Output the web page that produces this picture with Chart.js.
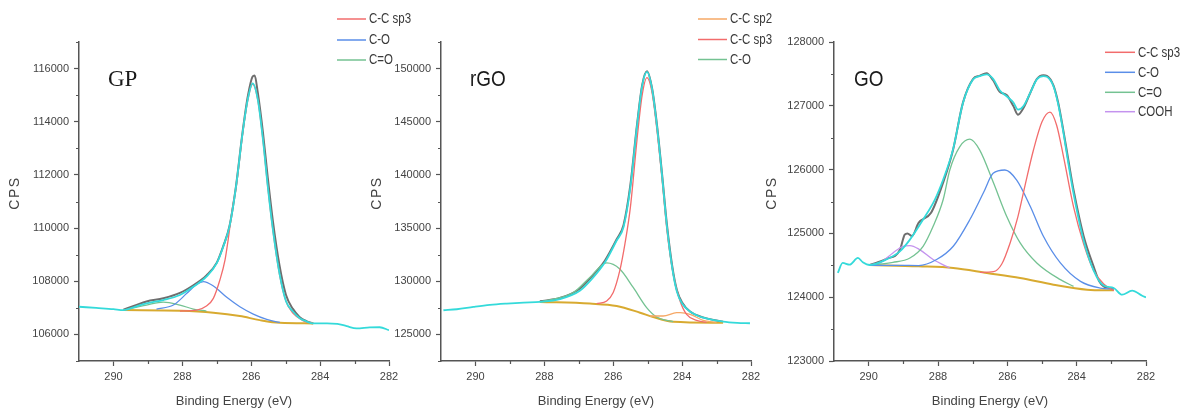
<!DOCTYPE html>
<html><head><meta charset="utf-8">
<script src="https://cdn.jsdelivr.net/npm/chart.js@4.4.1/dist/chart.umd.min.js"></script>
<style>
html,body{margin:0;padding:0;background:#fff;}
body{width:1189px;height:410px;position:relative;overflow:hidden;}
canvas{position:absolute;top:0;}
</style></head><body>
<canvas id="c1" width="430" height="410" style="left:0px"></canvas>
<canvas id="c2" width="430" height="410" style="left:360px"></canvas>
<canvas id="c3" width="439" height="410" style="left:750px"></canvas>
<script>
// ---------- axis ticks ----------
const energyTicks = [290, 289, 288, 287, 286, 285, 284, 283, 282];
const energyLabels = [290, 288, 286, 284, 282];
const gpYTicks = [105000,106000,107000,108000,109000,110000,111000,112000,113000,114000,115000,116000,117000];
const gpYLabels = [106000,108000,110000,112000,114000,116000];
const rgoYTicks = [122500,125000,127500,130000,132500,135000,137500,140000,142500,145000,147500,150000,152500];
const rgoYLabels = [125000,130000,135000,140000,145000,150000];
const goYTicks = [123000,123500,124000,124500,125000,125500,126000,126500,127000,127500,128000];
const goYLabels = [123000,124000,125000,126000,127000,128000];

// ---------- GP panel ----------
const gpLegend = ['C-C sp3','C-O','C=O'];
const gpFitE = [291.0,290.5,290.0,289.71,289.37,289.04,288.55,288.07,287.68,287.3,287.0,286.81,286.63,286.44,286.25,286.10,285.96,285.81,285.66,285.52,285.37,285.18,284.99,284.79,284.6,284.4,284.2,283.8,283.5,283.23,282.94,282.56,282.27,282.0];
const gpFitV = [107040,106995,106950,106916,107040,107169,107293,107482,107795,108173,108679,109305,110063,111572,113585,114843,115447,114843,113333,111572,109937,108302,107250,106860,106620,106490,106414,106414,106400,106312,106226,106264,106270,106161];
const gpRawE = [289.71,289.37,289.04,288.55,288.07,287.68,287.3,287.0,286.81,286.63,286.44,286.25,286.10,285.96,285.90,285.81,285.66,285.52,285.37,285.18,284.99,284.79,284.6,284.4,284.2];
const gpRawV = [106930,107090,107240,107360,107560,107850,108220,108700,109330,110080,111600,113620,114950,115700,115740,115100,113600,111900,110250,108600,107480,106960,106660,106500,106414];
const gpBaseE = [289.71,288.07,287.10,286.33,285.75,285.17,284.2];
const gpBaseV = [106916,106890,106815,106690,106538,106437,106414];
const gpCCE = [288.07,287.58,287.3,287.1,286.91,286.76,286.67,286.54,286.44,286.25,286.10,285.96,285.81,285.66,285.52,285.37,285.18,284.99,284.79,284.5,284.2];
const gpCCV = [106878,106916,107067,107357,108048,108803,109558,110800,111500,113550,114800,115420,114820,113310,111550,109900,108260,107250,106800,106520,106414];
const gpCOE = [288.75,288.26,287.87,287.58,287.39,287.10,286.71,286.33,285.94,285.55,285.17];
const gpCOV = [106954,107105,107546,107886,107984,107822,107395,107041,106765,106565,106450];
const gpCdOE = [289.71,289.04,288.55,288.07,287.68,287.30];
const gpCdOV = [106916,107105,107218,107105,106954,106878];

// ---------- rGO panel ----------
const rgoLegend = ['C-C sp2','C-C sp3','C-O'];
const rgoFitE = [290.93,290.54,290.06,289.58,289.09,288.6,288.13,287.55,286.97,286.58,286.24,285.90,285.70,285.50,285.31,285.16,285.02,284.87,284.73,284.58,284.44,284.29,284.15,284.0,283.77,283.58,283.39,282.81,282.4,282.03];
const rgoFitV = [127272,127367,127584,127774,127897,127990,128058,128313,129100,130359,131780,133835,135100,138887,144570,148358,149684,148043,144570,139835,135100,131311,129000,127900,127150,126800,126577,126194,126080,126050];
const rgoRawE = [288.13,287.55,286.97,286.58,286.24,285.90,285.70,285.50,285.31,285.16,285.02,284.87,284.73,284.58,284.44,284.29,284.15,284.0,283.77,283.39,282.81];
const rgoRawV = [128120,128420,129300,130600,131950,133950,135300,139100,144700,148450,149750,148100,144700,140000,135300,131500,129150,128000,127150,126600,126194];
const rgoBaseE = [288.13,286.68,285.90,285.22,284.84,284.26,282.81];
const rgoBaseV = [128058,127897,127679,127045,126637,126194,126099];
const rgoSp2E = [284.94,284.55,284.16,284.06,283.77,283.39,283.0];
const rgoSp2V = [126732,126732,127045,127050,126890,126325,126136];
const rgoSp3E = [286.48,286.19,286.0,285.81,285.66,285.50,285.31,285.16,285.02,284.87,284.73,284.58,284.44,284.26,284.06,283.87,283.58,283.29];
const rgoSp3V = [127897,128150,128940,130994,133522,137000,143300,147500,149150,147700,144200,139500,134781,130681,128150,126890,126325,126136];
const rgoCOE = [288.13,287.16,286.68,286.19,285.81,285.42,285.03,284.74,284.26];
const rgoCOV = [128058,128940,130359,131723,131155,129413,127519,126637,126194];

// ---------- GO panel ----------
const goLegend = ['C-C sp3','C-O','C=O','COOH'];
const goFitE = [290.89,290.75,290.55,290.31,290.17,289.97,289.49,289.10,288.81,288.43,288.09,287.85,287.57,287.28,286.99,286.80,286.60,286.41,286.22,286.02,285.83,285.69,285.54,285.34,285.15,284.96,284.86,284.67,284.53,284.38,284.24,284.09,283.80,283.51,283.22,282.93,282.69,282.40,282.11,282.0];
const goFitV = [124380,124537,124510,124615,124549,124505,124590,124719,124903,125217,125531,125845,126309,127044,127412,127464,127491,127422,127244,127149,127055,126939,126992,127202,127412,127464,127454,127307,127018,126571,126099,125626,124891,124418,124182,124144,124039,124102,124023,123998];
const goRawE = [289.97,289.49,289.10,288.96,288.88,288.75,288.56,288.2,287.85,287.57,287.28,286.99,286.80,286.60,286.41,286.22,286.02,285.83,285.69,285.54,285.34,285.15,284.96,284.86,284.67,284.53,284.38,284.24,284.09,283.80,283.51,283.35,283.22,283.1,282.93];
const goRawV = [124505,124600,124740,124981,125000,124960,125165,125322,125800,126300,127050,127420,127470,127510,127400,127220,127170,127000,126860,126960,127200,127420,127480,127470,127320,127040,126600,126150,125680,124960,124480,124250,124170,124150,124130];
const goBaseE = [289.97,288.56,287.56,286.59,285.63,284.67,283.70,282.93];
const goBaseV = [124505,124484,124458,124380,124301,124196,124118,124107];
const goCCE = [286.79,286.40,286.16,285.92,285.70,285.49,285.25,285.0,284.77,284.58,284.38,284.09,283.80,283.51,283.22,282.93];
const goCCV = [124389,124400,124520,124850,125250,125750,126300,126750,126902,126700,126204,125416,124838,124418,124208,124103];
const goCOE = [289.97,289.11,288.56,288.04,287.56,287.08,286.69,286.41,286.07,285.73,285.34,284.96,284.47,283.89,283.32,282.93];
const goCOV = [124500,124500,124495,124590,124798,125217,125636,125941,125994,125836,125426,124955,124537,124248,124144,124129];
const goCdOE = [289.97,289.30,288.81,288.43,288.14,287.85,287.66,287.37,287.08,286.80,286.40,286.02,285.63,285.15,284.47,284.09];
const goCdOV = [124505,124546,124615,124798,125112,125531,125994,126361,126477,126309,125793,125269,124851,124537,124275,124170];
const goCOOHE = [289.97,289.68,289.30,289.01,288.81,288.53,288.14,287.66];
const goCOOHV = [124505,124537,124694,124798,124809,124746,124590,124458];

// ---------- styling ----------
const SANS = "'Liberation Sans',Arial,sans-serif";
const NARROW_X = 0.82;   // horizontal squeeze used to mimic the condensed face of the original
const C_RED = '#f26c6c', C_BLUE = '#5a8ee8', C_GREEN = '#74c292', C_PURPLE = '#c493ee',
      C_ORANGE = '#f6a866', C_GOLD = '#d8aa30', C_CYAN = '#34dada', C_GRAY = '#6e6e6e';
const AXIS = '#555';

function pts(xs, ys) { return xs.map((x, i) => ({ x: x, y: ys[i] })); }
function ds(label, xs, ys, color, width) {
  return { label: label, data: pts(xs, ys), borderColor: color, backgroundColor: color,
           borderWidth: width, pointRadius: 0, fill: false,
           cubicInterpolationMode: 'monotone' };
}

function narrowText(ctx, text, x, y, squeeze) {
  ctx.save();
  ctx.translate(x, y);
  ctx.scale(squeeze, 1);
  ctx.fillText(text, 0, 0);
  ctx.restore();
}

const decorPlugin = {
  id: 'panelDecor',
  afterDraw(chart, args, o) {
    const ctx = chart.ctx;
    ctx.save();
    // minor ticks (short)
    ctx.strokeStyle = AXIS; ctx.lineWidth = 1.2;
    const xs = chart.scales.x, ys = chart.scales.y;
    ctx.beginPath();
    energyTicks.forEach(v => {
      if (energyLabels.includes(v)) return;
      const px = Math.round(xs.getPixelForValue(v)) + 0.5;
      ctx.moveTo(px, xs.top); ctx.lineTo(px, xs.top + 3);
    });
    o.yTicks.forEach(v => {
      if (o.yLabels.includes(v)) return;
      const py = Math.round(ys.getPixelForValue(v)) + 0.5;
      ctx.moveTo(ys.right, py); ctx.lineTo(ys.right - 3, py);
    });
    ctx.stroke();
    // panel label
    ctx.fillStyle = '#1a1a1a';
    ctx.font = o.labelFont;
    ctx.textAlign = 'left'; ctx.textBaseline = 'alphabetic';
    narrowText(ctx, o.label, o.labelX, o.labelY, o.labelSqueeze);
    // legend
    ctx.font = '14px ' + SANS;
    ctx.textBaseline = 'middle';
    o.legend.forEach((name, i) => {
      const d = chart.data.datasets.find(s => s.label === name);
      const y = o.legY[i];
      ctx.strokeStyle = d.borderColor; ctx.lineWidth = 1.5;
      ctx.beginPath(); ctx.moveTo(o.legX0, y); ctx.lineTo(o.legX1, y); ctx.stroke();
      ctx.fillStyle = '#3a3a3a';
      narrowText(ctx, name, o.legText, y + 0.5, NARROW_X);
    });
    // y axis title
    ctx.translate(o.cpsX, o.cpsY);
    ctx.rotate(-Math.PI / 2);
    ctx.font = '14px ' + SANS;
    ctx.letterSpacing = '1.5px';
    ctx.textAlign = 'center'; ctx.textBaseline = 'middle';
    ctx.fillStyle = '#444';
    ctx.fillText('CPS', 0, 0);
    ctx.restore();
  }
};

function makeChart(id, cfg) {
  const gridFor = labels => ({
    drawOnChartArea: false, tickLength: 5, color: AXIS, tickWidth: 1.2,
    tickColor: c => (c.tick && labels.includes(c.tick.value)) ? AXIS : 'rgba(0,0,0,0)'
  });
  return new Chart(document.getElementById(id), {
    type: 'line',
    data: { datasets: cfg.datasets },
    options: {
      responsive: false, animation: false, events: [],
      layout: { padding: { left: 0, right: cfg.padRight, top: 42, bottom: 0 } },
      plugins: { legend: { display: false }, tooltip: { enabled: false }, panelDecor: cfg.decor },
      scales: {
        x: {
          type: 'linear', reverse: true, min: 282, max: 291,
          afterBuildTicks: s => { s.ticks = energyTicks.map(v => ({ value: v })); },
          afterFit: s => { s.height = 49; },
          grid: gridFor(energyLabels),
          border: { display: true, color: AXIS, width: 1.5 },
          ticks: { autoSkip: false, maxRotation: 0, padding: 4, color: '#444',
                   font: { family: SANS, size: 11 },
                   callback: v => energyLabels.includes(v) ? String(v) : '' },
          title: { display: true, text: 'Binding Energy (eV)', color: '#444',
                   font: { family: SANS, size: 13 }, padding: { top: 0, bottom: 1 } }
        },
        y: {
          type: 'linear', min: cfg.yTicks[0], max: cfg.yTicks[cfg.yTicks.length - 1],
          afterBuildTicks: s => { s.ticks = cfg.yTicks.map(v => ({ value: v })); },
          afterFit: s => { s.width = cfg.yWidth; },
          grid: gridFor(cfg.yLabels),
          border: { display: true, color: AXIS, width: 1.5 },
          ticks: { autoSkip: false, padding: 5, color: '#444',
                   font: { family: SANS, size: 11 },
                   callback: v => cfg.yLabels.includes(v) ? String(v) : '' }
        }
      }
    },
    plugins: [decorPlugin]
  });
}

makeChart('c1', {
  padRight: 41, yWidth: 79, yTicks: gpYTicks, yLabels: gpYLabels,
  datasets: [
    ds('Fit', gpFitE, gpFitV, C_CYAN, 1.8),
    ds('C-C sp3', gpCCE, gpCCV, C_RED, 1.3),
    ds('C-O', gpCOE, gpCOV, C_BLUE, 1.3),
    ds('C=O', gpCdOE, gpCdOV, C_GREEN, 1.3),
    ds('Background', gpBaseE, gpBaseV, C_GOLD, 2),
    ds('Raw', gpRawE, gpRawV, C_GRAY, 2)
  ],
  decor: { label: 'GP', labelFont: "23px 'Liberation Serif','Times New Roman',serif", labelSqueeze: 1,
           labelX: 108, labelY: 86, yTicks: gpYTicks, yLabels: gpYLabels,
           legend: gpLegend, legX0: 337, legX1: 366, legText: 369, legY: [19, 40, 60],
           cpsX: 15, cpsY: 193 }
});

makeChart('c2', {
  padRight: 39, yWidth: 81, yTicks: rgoYTicks, yLabels: rgoYLabels,
  datasets: [
    ds('Fit', rgoFitE, rgoFitV, C_CYAN, 1.8),
    ds('C-C sp3', rgoSp3E, rgoSp3V, C_RED, 1.3),
    ds('C-C sp2', rgoSp2E, rgoSp2V, C_ORANGE, 1.3),
    ds('C-O', rgoCOE, rgoCOV, C_GREEN, 1.3),
    ds('Background', rgoBaseE, rgoBaseV, C_GOLD, 2),
    ds('Raw', rgoRawE, rgoRawV, C_GRAY, 2)
  ],
  decor: { label: 'rGO', labelFont: "22px " + SANS, labelSqueeze: 0.86,
           labelX: 110, labelY: 86, yTicks: rgoYTicks, yLabels: rgoYLabels,
           legend: rgoLegend, legX0: 338, legX1: 367, legText: 370, legY: [19, 39.5, 59.5],
           cpsX: 17, cpsY: 193 }
});

makeChart('c3', {
  padRight: 43, yWidth: 84, yTicks: goYTicks, yLabels: goYLabels,
  datasets: [
    ds('Fit', goFitE, goFitV, C_CYAN, 1.8),
    ds('C-C sp3', goCCE, goCCV, C_RED, 1.3),
    ds('C-O', goCOE, goCOV, C_BLUE, 1.3),
    ds('C=O', goCdOE, goCdOV, C_GREEN, 1.3),
    ds('COOH', goCOOHE, goCOOHV, C_PURPLE, 1.3),
    ds('Background', goBaseE, goBaseV, C_GOLD, 2),
    ds('Raw', goRawE, goRawV, C_GRAY, 2)
  ],
  decor: { label: 'GO', labelFont: "22px " + SANS, labelSqueeze: 0.86,
           labelX: 104, labelY: 86, yTicks: goYTicks, yLabels: goYLabels,
           legend: goLegend, legX0: 355, legX1: 385, legText: 388, legY: [52.3, 72.3, 92.3, 111.7],
           cpsX: 22, cpsY: 193 }
});
</script>
</body></html>
